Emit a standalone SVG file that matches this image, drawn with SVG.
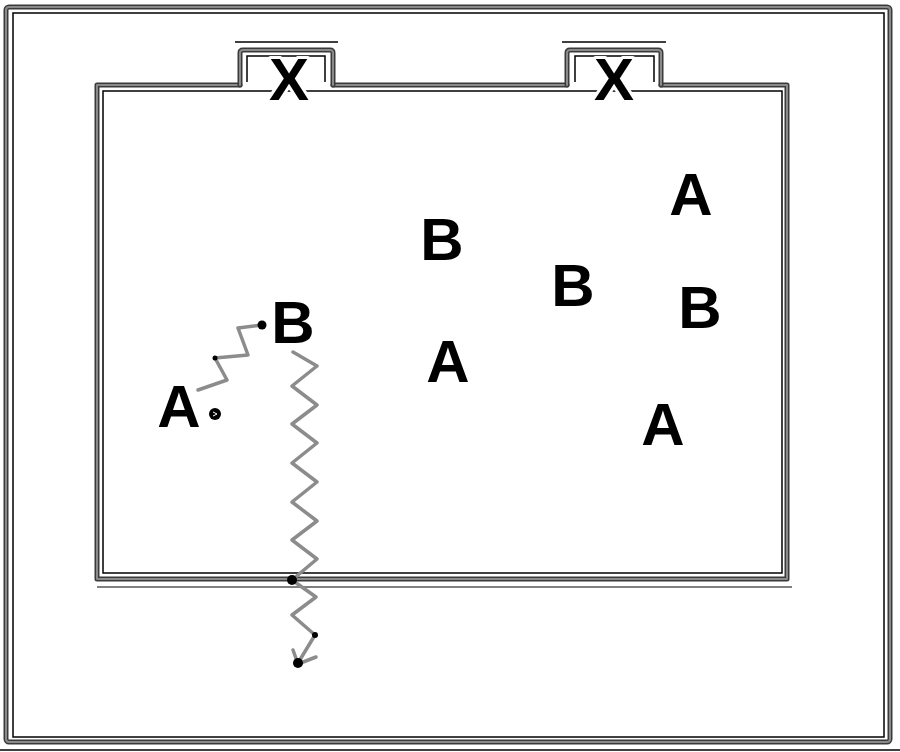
<svg xmlns="http://www.w3.org/2000/svg" width="900" height="752" viewBox="0 0 900 752">
<style>
.thk{fill:none;stroke:#3a3a3a;stroke-width:5;stroke-linejoin:round;stroke-linecap:round}
.thkc{fill:none;stroke:#8a8a8a;stroke-width:2;stroke-linejoin:round;stroke-linecap:round}
.thin{fill:none;stroke:#000;stroke-width:1.5}
.lbl{font-family:"Liberation Sans",Arial,sans-serif;font-weight:bold;font-size:60px;fill:#000;text-anchor:middle}
.halo{stroke:#fff;stroke-width:6;paint-order:stroke;stroke-linejoin:round}
.zig{fill:none;stroke:#8c8c8c;stroke-width:3.5;stroke-linejoin:round;stroke-linecap:round}
.dot{fill:#000}
</style>
<rect width="900" height="752" fill="#fff"/>
<g id="outer-frame">
  <rect class="thk" x="6" y="7" width="884" height="735" rx="3"/>
  <rect class="thkc" x="6" y="7" width="884" height="735" rx="3"/>
  <rect class="thin" x="13" y="13" width="871" height="724"/>
  <line class="thin" x1="0" y1="750" x2="900" y2="750"/>
</g>
<g id="field">
  <path class="thk" d="M240 85 H97 V579 H787 V85 H661 M567 85 H333"/>
  <path class="thkc" d="M240 85 H97 V579 H787 V85 H661 M567 85 H333"/>
  <rect class="thin" x="103" y="91" width="679" height="482"/>
  <line x1="97" y1="587" x2="792" y2="587" stroke="#000" stroke-width="1"/>
</g>
<g id="goal-left">
  <path class="thk" d="M240 85 V53 Q240 50 243 50 H330 Q333 50 333 53 V85"/>
  <path class="thkc" d="M240 85 V53 Q240 50 243 50 H330 Q333 50 333 53 V85"/>
  <line class="thin" x1="235" y1="42" x2="338" y2="42"/>
  <path class="thin" d="M247 82 V56 H325 V82" stroke-width="1"/>
  <text class="lbl halo" x="289" y="100">X</text>
</g>
<g id="goal-right">
  <path class="thk" d="M567 85 V53 Q567 50 570 50 H658 Q661 50 661 53 V85"/>
  <path class="thkc" d="M567 85 V53 Q567 50 570 50 H658 Q661 50 661 53 V85"/>
  <line class="thin" x1="562" y1="42" x2="666" y2="42"/>
  <path class="thin" d="M575 82 V56 H654 V82" stroke-width="1"/>
  <text class="lbl halo" x="614" y="100">X</text>
</g>
<g id="connectors">
  <polyline class="zig" points="198,390 227,380 215,358 248,355 238,328 262,325"/>
  <circle class="dot" cx="215" cy="358" r="2.5"/>
  <circle class="dot" cx="262" cy="325" r="4.5"/>
  <polyline class="zig" points="293,352 317,366 292,386 317,405 292,424 317,443 292,463 317,482 292,502 317,521 292,540 317,559 292,580 316,597 292,615 315,635 298,663"/>
  <polyline class="zig" points="293,650 298,664 316,657"/>
  <circle class="dot" cx="292" cy="580" r="5"/>
  <circle class="dot" cx="315" cy="635" r="3"/>
  <circle class="dot" cx="298" cy="663" r="5"/>
</g>
<g id="ball">
  <circle cx="215" cy="414" r="6" fill="#000"/>
  <path d="M213 412 L217 414 L213 416" stroke="#fff" stroke-width="1" fill="none"/>
</g>
<g id="player-a1"><text class="lbl" x="179" y="427">A</text></g>
<g id="player-b1"><text class="lbl" x="293" y="343">B</text></g>
<g id="player-b2"><text class="lbl" x="442" y="260">B</text></g>
<g id="player-a2"><text class="lbl" x="448" y="382">A</text></g>
<g id="player-b3"><text class="lbl" x="573" y="306">B</text></g>
<g id="player-a3"><text class="lbl" x="691" y="215">A</text></g>
<g id="player-b4"><text class="lbl" x="700" y="328">B</text></g>
<g id="player-a4"><text class="lbl" x="663" y="445">A</text></g>
</svg>
